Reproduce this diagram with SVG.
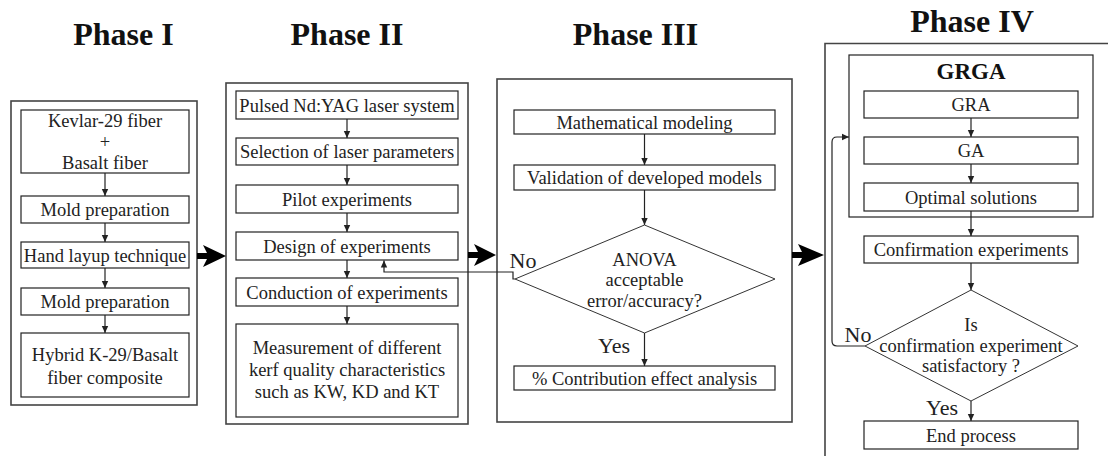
<svg xmlns="http://www.w3.org/2000/svg" width="1108" height="456" viewBox="0 0 1108 456">
<style>
.bg{fill:#fff}
.outer{fill:none;stroke:#444;stroke-width:1.6}
.box{fill:#fff;stroke:#222;stroke-width:1.2}
.dia{fill:#fff;stroke:#333;stroke-width:1}
.t{font-family:"Liberation Serif","Times New Roman",serif;font-size:18.5px;fill:#222;text-anchor:middle}
.lbl{font-family:"Liberation Serif","Times New Roman",serif;font-size:22px;fill:#222;text-anchor:middle}
.title{font-family:"Liberation Serif","Times New Roman",serif;font-size:32px;font-weight:bold;fill:#111;text-anchor:middle}
.grga{font-family:"Liberation Serif","Times New Roman",serif;font-size:23px;font-weight:bold;fill:#111;text-anchor:middle}
.c{fill:none;stroke:#222;stroke-width:1.2}
.big{fill:#000}
</style>
<defs>
<marker id="ah" markerWidth="8" markerHeight="8" refX="7" refY="4" orient="auto" markerUnits="userSpaceOnUse">
<path d="M0,0.8 L7,4 L0,7.2 z" fill="#222"/>
</marker>
</defs>
<rect class="bg" x="0" y="0" width="1108" height="456"/>

<g id="titles">
<text class="title" x="123.5" y="45">Phase I</text>
<text class="title" x="347" y="45">Phase II</text>
<text class="title" x="635.5" y="45">Phase III</text>
<text class="title" x="972" y="32">Phase IV</text>
</g>

<g id="phase1">
<rect class="outer" x="11" y="101" width="186" height="304"/>
<g id="p1-kevlar"><rect class="box" x="21" y="110" width="168" height="63"/>
<text class="t" x="105" y="127">Kevlar-29 fiber</text><text class="t" x="105" y="148">+</text><text class="t" x="105" y="169">Basalt fiber</text></g>
<g id="p1-mold1"><rect class="box" x="21" y="196" width="168" height="27"/><text class="t" x="105" y="216">Mold preparation</text></g>
<g id="p1-hand"><rect class="box" x="21" y="242" width="168" height="26"/><text class="t" x="105" y="261.5">Hand layup technique</text></g>
<g id="p1-mold2"><rect class="box" x="21" y="288" width="168" height="27"/><text class="t" x="105" y="308">Mold preparation</text></g>
<g id="p1-hybrid"><rect class="box" x="21" y="333" width="168" height="64"/>
<text class="t" x="105" y="361">Hybrid K-29/Basalt</text><text class="t" x="105" y="384">fiber composite</text></g>
</g>

<g id="phase2">
<rect class="outer" x="226" y="83" width="242" height="341"/>
<g id="p2-laser"><rect class="box" x="236" y="91" width="222" height="28"/><text class="t" x="347" y="111.5">Pulsed Nd:YAG laser system</text></g>
<g id="p2-select"><rect class="box" x="236" y="138" width="222" height="27"/><text class="t" x="347" y="158">Selection of laser parameters</text></g>
<g id="p2-pilot"><rect class="box" x="236" y="185" width="222" height="28"/><text class="t" x="347" y="205.5">Pilot experiments</text></g>
<g id="p2-design"><rect class="box" x="236" y="232" width="222" height="28"/><text class="t" x="347" y="252.5">Design of experiments</text></g>
<g id="p2-conduct"><rect class="box" x="236" y="278" width="222" height="28"/><text class="t" x="347" y="298.5">Conduction of experiments</text></g>
<g id="p2-measure"><rect class="box" x="236" y="324" width="222" height="93"/>
<text class="t" x="347" y="354">Measurement of different</text><text class="t" x="347" y="376">kerf quality characteristics</text><text class="t" x="347" y="398">such as KW, KD and KT</text></g>
</g>

<g id="phase3">
<rect class="outer" x="497" y="79" width="295" height="343"/>
<g id="p3-math"><rect class="box" x="514" y="110" width="261" height="24"/><text class="t" x="644.5" y="128.5">Mathematical modeling</text></g>
<g id="p3-valid"><rect class="box" x="514" y="165" width="261" height="25"/><text class="t" x="644.5" y="184">Validation of developed models</text></g>
<g id="p3-anova"><path class="dia" d="M644.5,225 L775,279 L644.5,333 L515,279 Z"/>
<text class="t" x="644.5" y="266">ANOVA</text><text class="t" x="644.5" y="286">acceptable</text><text class="t" x="644.5" y="307">error/accuracy?</text></g>
<g id="p3-contrib"><rect class="box" x="514" y="366" width="261" height="24"/><text class="t" x="644.5" y="384.5">% Contribution effect analysis</text></g>
</g>

<g id="phase4">
<path class="outer" d="M1108,43.5 L825,43.5 L825,456"/>
<g id="p4-grga"><rect class="box" x="849" y="55" width="244" height="162"/><text class="grga" x="971" y="79">GRGA</text></g>
<g id="p4-gra"><rect class="box" x="864" y="91" width="214" height="27"/><text class="t" x="971" y="111">GRA</text></g>
<g id="p4-ga"><rect class="box" x="864" y="137" width="214" height="27"/><text class="t" x="971" y="157">GA</text></g>
<g id="p4-opt"><rect class="box" x="864" y="183" width="214" height="28"/><text class="t" x="971" y="203.5">Optimal solutions</text></g>
<g id="p4-confirm"><rect class="box" x="864" y="236" width="214" height="27"/><text class="t" x="971" y="256">Confirmation experiments</text></g>
<g id="p4-dia"><path class="dia" d="M971,290 L1078,346 L971,401 L865,346 Z"/>
<text class="t" x="971" y="331">Is</text><text class="t" x="971" y="352">confirmation experiment</text><text class="t" x="971" y="372">satisfactory ?</text></g>
<g id="p4-end"><rect class="box" x="864" y="421" width="214" height="28"/><text class="t" x="971" y="441.5">End process</text></g>
</g>

<g id="connectors">
<line class="c" x1="105" y1="173" x2="105" y2="196" marker-end="url(#ah)"/>
<line class="c" x1="105" y1="223" x2="105" y2="242" marker-end="url(#ah)"/>
<line class="c" x1="105" y1="268" x2="105" y2="288" marker-end="url(#ah)"/>
<line class="c" x1="105" y1="315" x2="105" y2="333" marker-end="url(#ah)"/>

<line class="c" x1="347" y1="119" x2="347" y2="138" marker-end="url(#ah)"/>
<line class="c" x1="347" y1="165" x2="347" y2="185" marker-end="url(#ah)"/>
<line class="c" x1="347" y1="213" x2="347" y2="232" marker-end="url(#ah)"/>
<line class="c" x1="347" y1="260" x2="347" y2="278" marker-end="url(#ah)"/>
<line class="c" x1="347" y1="306" x2="347" y2="324" marker-end="url(#ah)"/>

<line class="c" x1="644.5" y1="134" x2="644.5" y2="165" marker-end="url(#ah)"/>
<line class="c" x1="644.5" y1="190" x2="644.5" y2="225" marker-end="url(#ah)"/>
<line class="c" x1="644.5" y1="333" x2="644.5" y2="366" marker-end="url(#ah)"/>
<path class="c" d="M515,279 L513,279 L513,272 L384,272 L384,260.5" marker-end="url(#ah)"/>

<line class="c" x1="971" y1="118" x2="971" y2="137" marker-end="url(#ah)"/>
<line class="c" x1="971" y1="164" x2="971" y2="183" marker-end="url(#ah)"/>
<line class="c" x1="971" y1="211" x2="971" y2="236" marker-end="url(#ah)"/>
<line class="c" x1="971" y1="263" x2="971" y2="290" marker-end="url(#ah)"/>
<line class="c" x1="971" y1="401" x2="971" y2="421" marker-end="url(#ah)"/>
<path class="c" d="M865,346 L837,346 Q832,346 832,341 L832,142 Q832,137 837,137 L849,137" marker-end="url(#ah)"/>

<path class="big" d="M197,253 L207,253 L203,245 L226,256 L203,267 L207,259 L197,259 Z"/>
<path class="big" d="M468,252 L478,252 L474,244 L496,255 L474,266 L478,258 L468,258 Z"/>
<path class="big" d="M792,252 L802,252 L798,244 L824,255 L798,266 L802,258 L792,258 Z"/>

<text class="lbl" x="523" y="268">No</text>
<text class="lbl" x="614" y="353">Yes</text>
<text class="lbl" x="858" y="342">No</text>
<text class="lbl" x="942" y="415">Yes</text>
</g>
</svg>
